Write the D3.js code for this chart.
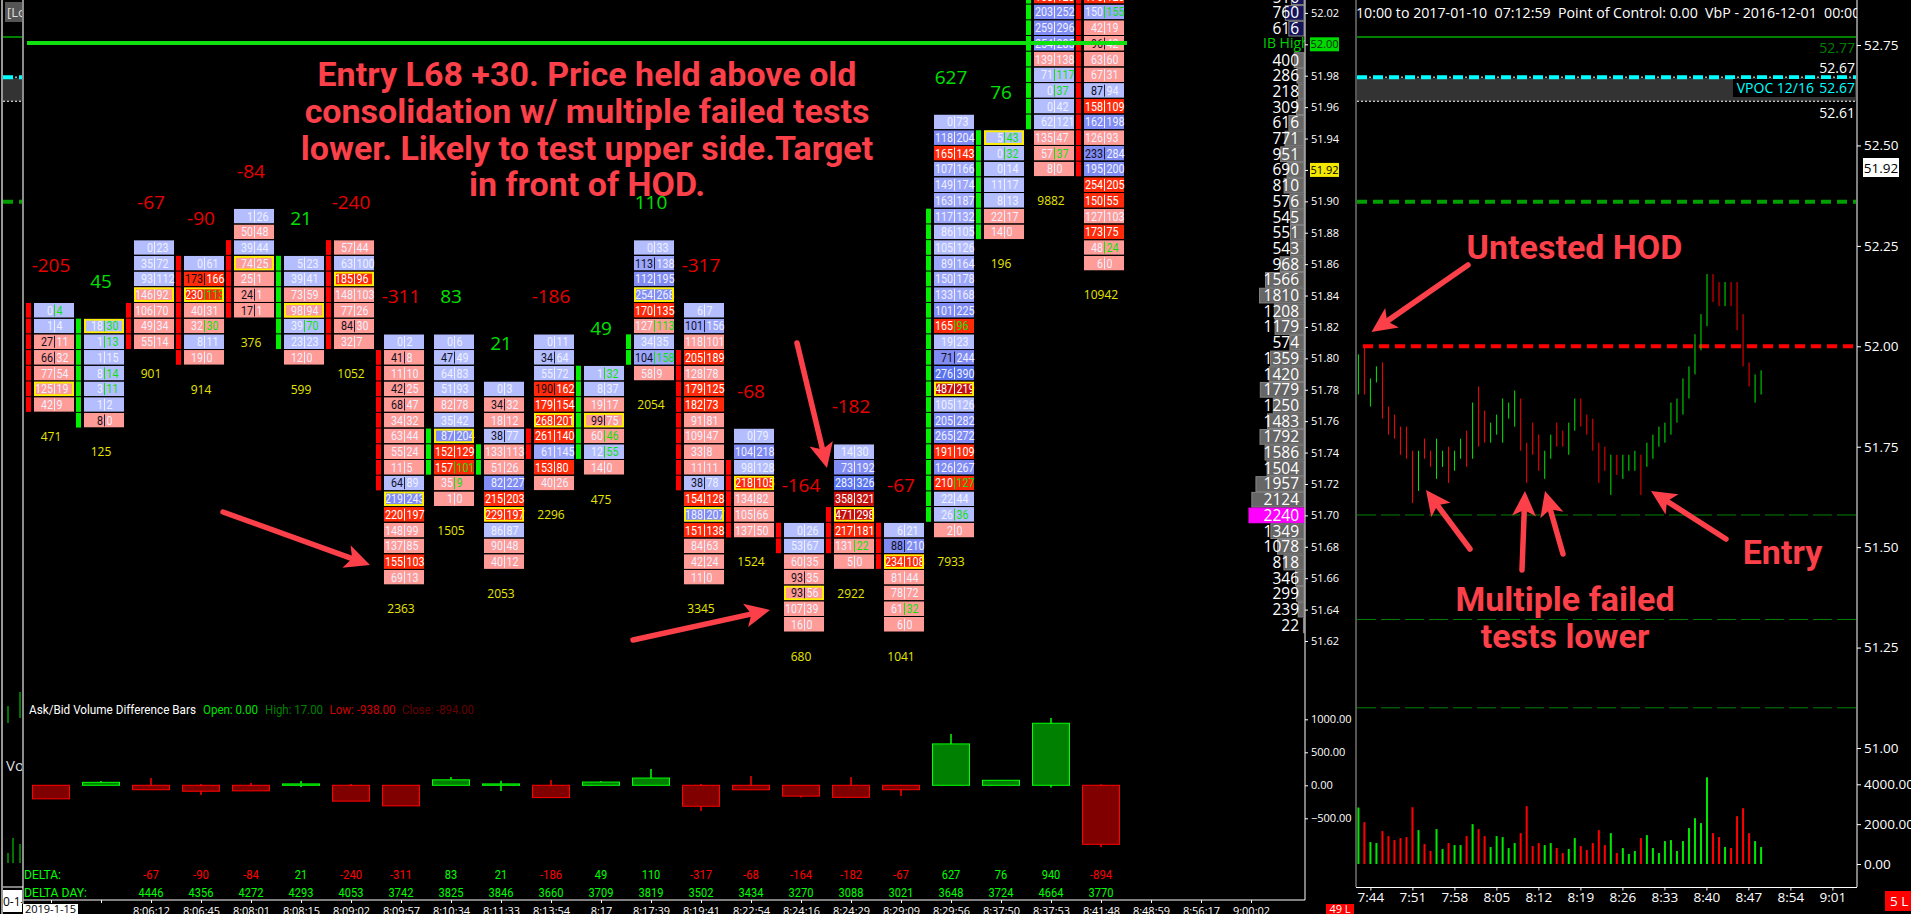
<!DOCTYPE html>
<html>
<head>
<meta charset="utf-8">
<script src="https://d3js.org/d3.v7.min.js"></script>
<style>
  html, body { margin: 0; padding: 0; background: #000; overflow: hidden; }
  text { font-family: "Open Sans", sans-serif; }
  .narrow { font-family: Roboto, sans-serif; }
  .note { font-family: Roboto, sans-serif; font-weight: 700; fill: #fb4049; }
</style>
</head>
<body>
<svg id="main-svg"></svg>
<script>
// --- 1. Data ---

// footprint columns, "bid|ask" per price row from the top price down
const footprints = [
  "0|4 1|4 27|11 66|32 77|54 125|19 42|9",
  "18|30 1|13 1|15 8|14 3|11 1|2 8|0",
  "0|23 35|72 93|112 146|92 106|70 49|34 55|14",
  "0|61 173|166 230|113 40|31 32|30 8|11 19|0",
  "1|26 50|48 39|44 74|25 25|1 24|1 17|1",
  "5|23 39|41 73|59 98|94 39|70 23|23 12|0",
  "57|44 63|100 185|96 148|103 77|26 84|30 32|7",
  "0|2 41|8 11|10 42|25 68|47 34|32 63|44 55|24 11|5 64|89 219|243 220|197 148|99 137|85 155|103 69|13",
  "0|6 47|49 64|83 51|93 82|78 35|42 87|204 152|129 157|101 35|9 1|0",
  "0|3 34|32 18|12 38|77 133|113 51|26 82|227 215|203 229|197 86|87 90|48 40|12",
  "0|11 34|64 55|72 190|162 179|154 268|201 261|140 61|145 153|80 40|26",
  "1|32 8|37 19|17 99|75 60|46 12|55 14|0",
  "0|33 113|138 112|195 254|268 170|135 127|113 34|35 104|158 58|9",
  "6|7 101|156 118|101 205|189 128|78 179|125 182|73 91|81 109|47 33|8 11|11 38|78 154|128 188|207 151|138 84|63 42|24 11|0",
  "0|79 104|218 98|128 218|105 134|82 105|66 137|50",
  "0|26 53|67 60|35 93|35 93|56 107|39 16|0",
  "14|30 73|192 283|326 358|321 471|298 217|181 131|22 5|0",
  "6|21 88|210 234|108 81|44 78|72 61|32 6|0",
  "0|73 118|204 165|143 107|166 149|174 163|187 117|132 86|105 105|126 89|164 150|178 133|168 101|225 165|96 19|23 71|244 276|390 487|219 105|126 205|282 265|272 191|109 126|267 210|127 22|44 26|36 2|0",
  "5|43 0|32 0|14 11|17 8|13 22|17 14|0",
  "168|120 203|252 259|296 254|285 139|138 71|117 0|37 0|42 62|121 135|47 57|37 8|0",
  "176|120 150|155 42|19 96|42 63|60 67|31 87|94 158|109 162|198 126|93 233|284 195|200 254|205 150|55 127|103 173|75 48|24 6|0"
];
const topPrices = [51.83, 51.82, 51.87, 51.86, 51.89, 51.86, 51.87, 51.81, 51.81, 51.78, 51.81, 51.79, 51.87, 51.83, 51.75, 51.69, 51.74, 51.69, 51.95, 51.94, 52.03, 52.03];
const deltas = [-205, 45, -67, -90, -84, 21, -240, -311, 83, 21, -186, 49, 110, -317, -68, -164, -182, -67, 627, 76, 940, -894];
const totals = [471, 125, 901, 914, 376, 599, 1052, 2363, 1505, 2053, 2296, 475, 2054, 3345, 1524, 680, 2922, 1041, 7933, 196, 9882, 10942];
const deltaDay = [null, null, 4446, 4356, 4272, 4293, 4053, 3742, 3825, 3846, 3660, 3709, 3819, 3502, 3434, 3270, 3088, 3021, 3648, 3724, 4664, 3770];
const deltaHigh = [0, 65, 111, 20, 35, 65, 20, 0, 126, 70, 80, 65, 247, 20, 141, 0, 126, 0, 778, 76, 1020, 17];
const deltaLow = [-205, 0, -67, -146, -84, -25, -240, -311, 0, -85, -186, 0, 0, -389, -68, -186, -182, -161, 0, 0, -35, -938];
// row of the point of control in each column, -1 when it is off the picture
const pocRows = [5, 0, 3, 2, 3, 3, 2, 10, 6, 8, 5, 3, 3, 13, 3, 4, 4, 2, 17, 0, -1, -1];
// rows with an imbalance marker on the ask, rows with a dark bid number
const askFlagRows = [[0], [0, 1, 3, 4], [], [2, 4], [], [4], [], [], [8, 9], [], [], [0, 4, 5], [5, 7], [], [], [], [6], [5], [13, 23, 25], [0, 1], [5, 6, 10], [1, 16]];
const bidFlagRows = [[2, 3], [6], [], [1], [5, 6], [], [5], [1, 3, 4, 9], [1], [1, 3], [1, 3], [3], [1, 7], [1, 11], [], [3, 4], [], [1], [15], [], [], [3, 6, 10]];
// rows covered by the thin delta strip beside each column
const stripFrom = [0, 0, 4, 0, 2, 0, 0, 1, 6, 4, 6, 0, 6, 3, 2, 0, 4, 0, 6, 0, 0, 0];
const stripTo = [6, 6, 6, 6, 6, 5, 6, 9, 8, 5, 7, 5, 7, 11, 6, 1, 6, 2, 25, 6, 8, 11];
const timeLabels = ["", "", "8:06:12", "8:06:45", "8:08:01", "8:08:15", "8:09:02", "8:09:57", "8:10:34", "8:11:33", "8:13:54", "8:17", "8:17:39", "8:19:41", "8:22:54", "8:24:16", "8:24:29", "8:29:09", "8:29:56", "8:37:50", "8:37:53", "8:41:48", "8:48:59", "8:56:17", "9:00:02"];

// volume profile, top row 52.03, one row per cent (null = hidden behind the IB High tag)
const profile = [516, 760, 616, null, 400, 286, 218, 309, 616, 771, 951, 690, 810, 576, 545, 551, 543, 968, 1566, 1810, 1208, 1179, 574, 1359, 1420, 1779, 1250, 1483, 1792, 1586, 1504, 1957, 2124, 2240, 1349, 1078, 818, 346, 299, 239, 22];
const priceTicks = [52.02, 52.00, 51.98, 51.96, 51.94, 51.92, 51.90, 51.88, 51.86, 51.84, 51.82, 51.80, 51.78, 51.76, 51.74, 51.72, 51.70, 51.68, 51.66, 51.64, 51.62];
const deltaTicks = [1000, 500, 0, -500];

// right hand one minute chart
const minuteHigh = [51.98, 52.00, 51.92, 51.95, 51.96, 51.85, 51.83, 51.80, 51.80, 51.74, 51.74, 51.77, 51.74, 51.77, 51.74, 51.75, 51.74, 51.77, 51.79, 51.86, 51.90, 51.84, 51.81, 51.83, 51.87, 51.86, 51.89, 51.87, 51.76, 51.81, 51.78, 51.74, 51.78, 51.81, 51.79, 51.81, 51.87, 51.87, 51.83, 51.82, 51.76, 51.75, 51.73, 51.73, 51.73, 51.73, 51.74, 51.73, 51.76, 51.78, 51.80, 51.81, 51.86, 51.87, 51.92, 51.95, 52.03, 52.08, 52.18, 52.18, 52.16, 52.16, 52.16, 52.16, 52.08, 51.96, 51.93, 51.94];
const minuteLow = [51.88, 51.88, 51.85, 51.91, 51.82, 51.78, 51.77, 51.73, 51.72, 51.61, 51.64, 51.72, 51.70, 51.67, 51.70, 51.66, 51.69, 51.72, 51.70, 51.72, 51.75, 51.76, 51.76, 51.78, 51.76, 51.82, 51.80, 51.74, 51.66, 51.73, 51.69, 51.67, 51.72, 51.75, 51.75, 51.73, 51.79, 51.80, 51.78, 51.74, 51.66, 51.69, 51.63, 51.68, 51.67, 51.69, 51.69, 51.63, 51.70, 51.72, 51.75, 51.76, 51.78, 51.81, 51.83, 51.87, 51.93, 51.99, 52.05, 52.11, 52.10, 52.10, 52.10, 52.04, 51.95, 51.90, 51.86, 51.88];
const minuteUp = [1, 0, 1, 1, 0, 0, 0, 0, 0, 0, 1, 0, 0, 1, 1, 0, 1, 1, 0, 1, 0, 0, 1, 1, 1, 1, 1, 0, 0, 0, 0, 1, 1, 0, 0, 1, 1, 0, 0, 0, 0, 0, 1, 0, 1, 1, 1, 0, 1, 1, 1, 1, 1, 1, 1, 1, 1, 1, 1, 0, 0, 1, 0, 0, 0, 0, 1, 1];
const minuteVolume = [2833, 2100, 1100, 1050, 1650, 1400, 1200, 1300, 1350, 2850, 1700, 1000, 650, 1750, 750, 1050, 950, 950, 1400, 2000, 1750, 1400, 850, 1400, 1350, 800, 1050, 1550, 2900, 900, 1050, 950, 1050, 800, 550, 750, 1300, 900, 700, 1050, 1700, 950, 1550, 550, 800, 500, 650, 1300, 1450, 800, 550, 1150, 1200, 650, 1150, 1800, 2300, 2050, 4350, 1550, 1350, 850, 800, 2400, 2800, 1550, 1150, 850];
const minuteLabels = ["7:44", "7:51", "7:58", "8:05", "8:12", "8:19", "8:26", "8:33", "8:40", "8:47", "8:54", "9:01"];
const minutePriceTicks = [52.75, 52.50, 52.25, 52.00, 51.75, 51.50, 51.25, 51.00];
const volumeTicks = [4000, 2000, 0];
const thinLevels = [51.58, 51.32, 51.10];

// --- 2. Setup ---
const width = 1911, height = 914;
const svg = d3.select("#main-svg").attr("width", width).attr("height", height).style("display", "block");

const RED = "#ff0000", GREEN = "#00f000", NOTE = "#fb4049";

const colX = d3.scaleLinear().domain([0, 24]).range([51, 1251]);
const priceY = d3.scaleLinear().domain([51.62, 52.02]).range([641, 12.9]);
const deltaY = d3.scaleLinear().domain([-500, 1000]).range([818.3, 719.3]);
const minuteY = d3.scaleLinear().domain([51, 52]).range([748, 346.3]);
const minuteX = d3.scaleLinear().domain([0, 67]).range([1358.4, 1761.1]);
const volumeY = d3.scaleLinear().domain([0, 4000]).range([864, 784.3]);
const profileW = d3.scaleLinear().domain([0, 2240]).range([0, 55]);

// cell tints follow the size of the bigger side
const blueTint = d3.scaleThreshold().domain([130, 190, 300]).range(["#b4beff", "#9ca6fb", "#808cf3", "#5a74ee"]);
const redTint = d3.scaleThreshold().domain([150, 350]).range(["#ff9c98", "#ff2a0a", "#c4100c"]);

const rows = footprints.map(s => s.split(" ").map(d => d.split("|").map(Number)));

// the chart's own font is narrower than anything installed, so squeeze to its width
const squeeze = (sel, w) => sel.attr("textLength", w).attr("lengthAdjust", "spacingAndGlyphs");
const numWidth = (v, per) => String(v).replace("-", "").length * per + (v < 0 ? 3.5 : 0);

svg.append("defs").append("clipPath").attr("id", "mainClip")
   .append("rect").attr("x", 24).attr("y", 0).attr("width", 1281).attr("height", 900);

drawLevels();
drawFootprint();
drawProfile();
drawPriceAxis();
drawDeltaPane();
drawMinuteChart();
drawNotes();
drawLeftStrip();

// --- 3. Drawing functions ---

function drawFootprint() {
    const g = svg.append("g").attr("clip-path", "url(#mainClip)");

    rows.forEach((colRows, i) => {
        const col = g.append("g").attr("class", "col");
        const cx = colX(i);
        const left = cx - 17;
        const top = topPrices[i];
        const rowY = r => priceY(top - r * 0.01) - 1;

        // delta strip
        col.selectAll("rect.strip")
           .data(d3.range(stripFrom[i], stripTo[i] + 1))
           .enter().append("rect")
           .attr("class", "strip")
           .attr("x", cx - 25)
           .attr("y", r => rowY(r) - 7.3)
           .attr("width", 5)
           .attr("height", 14.7)
           .attr("fill", deltas[i] < 0 ? RED : GREEN);

        colRows.forEach(([bid, ask], r) => {
            const isBlue = ask > bid || (ask === bid && bid > 20);
            const y = rowY(r);
            const cell = col.append("svg")
                .attr("x", left).attr("y", y - 7.3)
                .attr("width", 41).attr("height", 14.7);
            cell.append("rect").attr("width", 40).attr("height", 14.7)
                .attr("fill", isBlue ? blueTint(ask) : redTint(bid));

            const dark = bidFlagRows[i].includes(r);
            const flagged = askFlagRows[i].includes(r);
            const bright = !isBlue && bid >= 150 ? "#ffffff" : "#eef0ff";

            cell.append("text").attr("class", "narrow")
                .attr("x", 19).attr("y", 11.8).attr("text-anchor", "end")
                .attr("font-size", 13)
                .attr("fill", dark ? "#10101c" : bright)
                .text(bid)
                .call(squeeze, numWidth(bid, 6));
            cell.append("rect").attr("x", 20).attr("y", 1.5).attr("width", 1).attr("height", 12)
                .attr("fill", flagged ? "#10e010" : dark ? "#20203a" : bright);
            cell.append("text").attr("class", "narrow")
                .attr("x", 22.5).attr("y", 11.8)
                .attr("font-size", 13)
                .attr("fill", flagged ? "#10e010" : bright)
                .text(ask)
                .call(squeeze, numWidth(ask, 6));

            if (r === pocRows[i]) {
                cell.append("rect").attr("x", 1).attr("y", 1).attr("width", 38).attr("height", 12.7)
                    .attr("fill", "none").attr("stroke", "#ffee00").attr("stroke-width", 2);
            }
        });

        col.append("text")
           .attr("x", cx).attr("y", rowY(0) - 7.3 - 31)
           .attr("text-anchor", "middle")
           .attr("font-size", 19)
           .attr("fill", deltas[i] < 0 ? "#e80000" : "#00e000")
           .text(deltas[i]);

        col.append("text")
           .attr("x", cx).attr("y", rowY(colRows.length - 1) + 7.3 + 29)
           .attr("text-anchor", "middle")
           .attr("font-size", 12)
           .attr("fill", "#e6e600")
           .text(totals[i]);
    });

    // IB High line sits on top of the cells
    g.append("rect").attr("x", 27).attr("y", 41).attr("width", 1100).attr("height", 4).attr("fill", "#10e010");
}

function drawProfile() {
    const g = svg.append("g").attr("clip-path", "url(#mainClip)");
    const data = profile.map((v, i) => ({v: v, price: 52.03 - i * 0.01})).filter(d => d.v !== null);
    const poc = d3.max(profile);

    g.selectAll("rect.vbar")
     .data(data)
     .enter().append("rect")
     .attr("class", "vbar")
     .attr("x", d => 1304 - profileW(d.v))
     .attr("y", d => priceY(d.price) - 7.3)
     .attr("width", d => profileW(d.v))
     .attr("height", 14.7)
     .attr("fill", d => d.v === poc ? "#ff00ff" : (d.price > 52.005 || d.price < 51.635) ? "#14145a" : "#666666")
     .attr("stroke", d => d.v === poc ? "#ff00ff" : "#858585");

    g.selectAll("text.vnum")
     .data(data)
     .enter().append("text")
     .attr("class", "vnum")
     .attr("x", 1299)
     .attr("y", d => priceY(d.price) + 5.5)
     .attr("text-anchor", "end")
     .attr("font-size", 15.5)
     .attr("fill", "#ffffff")
     .text(d => d.v);

    g.append("text")
     .attr("x", 1263).attr("y", 48)
     .attr("font-size", 14)
     .attr("fill", "#00d000")
     .text("IB High");
}

function drawPriceAxis() {
    const g = svg.append("g");
    g.append("line").attr("x1", 1305).attr("x2", 1305).attr("y1", 0).attr("y2", 900).attr("stroke", "#fff");
    g.append("line").attr("x1", 23).attr("x2", 1305).attr("y1", 900).attr("y2", 900).attr("stroke", "#fff");

    const ax = d3.axisRight(priceY).tickValues(priceTicks).tickFormat(d3.format(".2f")).tickSize(3).tickPadding(3);
    const a = g.append("g").attr("transform", "translate(1305,0)").call(ax);
    styleAxis(a, 11);

    const ax2 = d3.axisRight(deltaY).tickValues(deltaTicks).tickFormat(d3.format(".2f")).tickSize(3).tickPadding(3);
    const a2 = g.append("g").attr("transform", "translate(1305,0)").call(ax2);
    styleAxis(a2, 11);

    // current price and IB High tags on the axis
    tag(g, 1310, priceY(51.92), 29, 14, "#f4e800", "#000", "51.92");
    tag(g, 1310, priceY(52.00), 29, 14, "#00d800", "#003000", "52.00");

    const b = d3.axisBottom(colX).tickValues(d3.range(0, 25))
                .tickFormat(i => timeLabels[i]).tickSize(3).tickPadding(4);
    const ba = g.append("g").attr("transform", "translate(0,900)").call(b);
    styleAxis(ba, 11);

    tag(g, 23, 909, 55, 10, "#ffffff", "#000", "2019-1-15");
    tag(g, 1326, 909, 28, 10, "#ff0000", "#fff", "49 L");
}

function tag(g, x, cy, w, h, bg, fg, label) {
    g.append("rect").attr("x", x).attr("y", cy - h / 2).attr("width", w).attr("height", h).attr("fill", bg);
    g.append("text").attr("x", x + w / 2).attr("y", cy + 4).attr("text-anchor", "middle")
     .attr("font-size", 11).attr("fill", fg).text(label);
}

function styleAxis(a, size) {
    a.select(".domain").remove();
    a.selectAll("line").attr("stroke", "#fff");
    a.selectAll("text").attr("fill", "#fff").attr("font-size", size)
     .style("font-family", '"Open Sans", sans-serif');
}

function drawDeltaPane() {
    const g = svg.append("g");
    const legend = [
        ["Ask/Bid Volume Difference Bars", 29, 167, "#ffffff"],
        ["Open: 0.00", 203, 55, "#00e000"],
        ["High: 17.00", 265, 58, "#008000"],
        ["Low: -938.00", 329.5, 66, "#d00000"],
        ["Close: -894.00", 402, 72, "#660000"]
    ];
    g.selectAll("text.legend")
     .data(legend)
     .enter().append("text")
     .attr("class", "legend narrow")
     .attr("x", d => d[1]).attr("y", 713.5)
     .attr("font-size", 13)
     .attr("fill", d => d[3])
     .attr("textLength", d => d[2])
     .attr("lengthAdjust", "spacingAndGlyphs")
     .text(d => d[0]);

    const idx = d3.range(deltas.length);

    g.selectAll("line.wick")
     .data(idx)
     .enter().append("line")
     .attr("class", "wick")
     .attr("x1", i => colX(i)).attr("x2", i => colX(i))
     .attr("y1", i => deltaY(deltaHigh[i])).attr("y2", i => deltaY(deltaLow[i]))
     .attr("stroke", i => deltas[i] < 0 ? RED : "#00ff00")
     .attr("stroke-width", 1.5);

    g.selectAll("rect.body")
     .data(idx)
     .enter().append("rect")
     .attr("class", "body")
     .attr("x", i => colX(i) - 18.5)
     .attr("y", i => Math.min(deltaY(0), deltaY(deltas[i])))
     .attr("width", 37)
     .attr("height", i => Math.abs(deltaY(deltas[i]) - deltaY(0)))
     .attr("fill", i => deltas[i] < 0 ? "#800000" : "#008000")
     .attr("stroke", i => deltas[i] < 0 ? RED : "#00ff00");

    g.append("text").attr("class", "narrow").attr("x", 24).attr("y", 879)
     .attr("font-size", 13).attr("fill", "#00ff00").text("DELTA:").call(squeeze, 37);
    g.append("text").attr("class", "narrow").attr("x", 24).attr("y", 897)
     .attr("font-size", 13).attr("fill", "#00ff00").text("DELTA DAY:").call(squeeze, 63);

    const shown = idx.filter(i => i >= 2);
    g.selectAll("text.dv")
     .data(shown)
     .enter().append("text")
     .attr("class", "dv narrow")
     .attr("x", i => colX(i)).attr("y", 879)
     .attr("text-anchor", "middle")
     .attr("font-size", 13)
     .attr("fill", i => deltas[i] < 0 ? RED : "#00ff00")
     .attr("textLength", i => numWidth(deltas[i], 6.2))
     .attr("lengthAdjust", "spacingAndGlyphs")
     .text(i => deltas[i]);
    g.selectAll("text.dd")
     .data(shown)
     .enter().append("text")
     .attr("class", "dd narrow")
     .attr("x", i => colX(i)).attr("y", 897)
     .attr("text-anchor", "middle")
     .attr("font-size", 13)
     .attr("fill", "#00ff00")
     .attr("textLength", i => numWidth(deltaDay[i], 6.2))
     .attr("lengthAdjust", "spacingAndGlyphs")
     .text(i => deltaDay[i]);
}

// the level lines run through the right chart and the narrow left strip
function drawLevels() {
    const spans = [[1357, 1856], [3, 22]];
    spans.forEach(([x0, x1], s) => {
        const g = svg.append("g");
        const hline = (price, color, w, dash, start) => {
            const y = minuteY(price);
            g.append("line").attr("x1", start || x0).attr("x2", x1).attr("y1", y).attr("y2", y)
             .attr("stroke", color).attr("stroke-width", w).attr("stroke-dasharray", dash || null);
        };
        g.append("rect").attr("x", x0).attr("y", minuteY(52.67) + 1)
         .attr("width", x1 - x0).attr("height", minuteY(52.61) - minuteY(52.67) - 1).attr("fill", "#333333");
        hline(52.77, "#008000", 2);
        hline(52.67, "#ffffff", 1, "2 2");
        hline(52.67, "#00ffff", 4, "10 6");
        hline(52.61, "#ffffff", 1, "2 2");
        hline(52.36, "#00a000", 4, "10 6");
        if (s === 0) {
            hline(52.00, "#ff0000", 4, "10 6", 1363);
            thinLevels.forEach(p => hline(p, "#008000", 1, "19 5"));
        }
    });
}

function drawMinuteChart() {
    const g = svg.append("g");
    const idx = d3.range(minuteHigh.length);

    // tags on the right hand levels
    g.append("rect").attr("x", 1733).attr("y", 79).attr("width", 122).attr("height", 18).attr("fill", "#000");
    const tagText = (x, y, color, t) => g.append("text").attr("x", x).attr("y", y).attr("text-anchor", "end")
        .attr("font-size", 14).attr("fill", color).text(t);
    tagText(1855, 52.5, "#008000", "52.77");
    tagText(1855, 72.5, "#ffffff", "52.67");
    tagText(1855, 92.5, "#00ffff", "52.67");
    tagText(1814, 92.5, "#00ffff", "VPOC 12/16");
    tagText(1855, 117.5, "#ffffff", "52.61");

    g.selectAll("line.mbar")
     .data(idx)
     .enter().append("line")
     .attr("class", "mbar")
     .attr("x1", i => minuteX(i)).attr("x2", i => minuteX(i))
     .attr("y1", i => minuteY(minuteHigh[i])).attr("y2", i => minuteY(minuteLow[i]))
     .attr("stroke", i => minuteUp[i] ? "#00e800" : RED)
     .attr("stroke-width", 1);

    g.selectAll("rect.mvol")
     .data(idx)
     .enter().append("rect")
     .attr("class", "mvol")
     .attr("x", i => minuteX(i) - 1)
     .attr("y", i => volumeY(minuteVolume[i]))
     .attr("width", 2)
     .attr("height", i => volumeY(0) - volumeY(minuteVolume[i]))
     .attr("fill", i => minuteUp[i] ? "#00e800" : RED);

    // frame
    g.append("line").attr("x1", 1356).attr("x2", 1356).attr("y1", 0).attr("y2", 887).attr("stroke", "#aaa");
    g.append("line").attr("x1", 1857).attr("x2", 1857).attr("y1", 0).attr("y2", 887).attr("stroke", "#fff");
    g.append("line").attr("x1", 1356).attr("x2", 1857).attr("y1", 887.5).attr("y2", 887.5).attr("stroke", "#fff");

    const header = svg.append("svg").attr("x", 1356).attr("y", 0).attr("width", 501).attr("height", 26);
    header.append("text").attr("x", 0).attr("y", 18).attr("font-size", 14.2).attr("fill", "#fff")
          .attr("xml:space", "preserve").style("white-space", "pre")
          .text("10:00 to 2017-01-10  07:12:59  Point of Control: 0.00  VbP - 2016-12-01  00:00");

    const py = g.append("g").attr("transform", "translate(1857,0)")
        .call(d3.axisRight(minuteY).tickValues(minutePriceTicks).tickFormat(d3.format(".2f")).tickSize(4).tickPadding(3));
    styleAxis(py, 13.5);
    const vy = g.append("g").attr("transform", "translate(1857,0)")
        .call(d3.axisRight(volumeY).tickValues(volumeTicks).tickFormat(d3.format(".2f")).tickSize(4).tickPadding(3));
    styleAxis(vy, 13.5);

    const tx = g.append("g").attr("transform", "translate(0,887.5)")
        .call(d3.axisBottom(d3.scaleLinear().domain([0, 11]).range([1370.4, 1832.4]))
                .tickValues(d3.range(12)).tickFormat(i => minuteLabels[i]).tickSize(3).tickPadding(2));
    styleAxis(tx, 13.5);

    g.append("rect").attr("x", 1863).attr("y", 158).attr("width", 36).attr("height", 19).attr("fill", "#fff");
    g.append("text").attr("x", 1881).attr("y", 172.5).attr("text-anchor", "middle")
     .attr("font-size", 13.5).attr("fill", "#000").text("51.92");

    g.append("rect").attr("x", 1885).attr("y", 891).attr("width", 26).attr("height", 20).attr("fill", RED);
    g.append("text").attr("x", 1890).attr("y", 906).attr("font-size", 13.5).attr("fill", "#fff").text("5 L");
}

function arrow(g, x0, y0, x1, y1) {
    const a = Math.atan2(y1 - y0, x1 - x0);
    const ux = Math.cos(a), uy = Math.sin(a);
    const len = 25, half = 12;
    const bx = x1 - ux * len, by = y1 - uy * len;
    g.append("line").attr("x1", x0).attr("y1", y0)
     .attr("x2", x1 - ux * 16).attr("y2", y1 - uy * 16)
     .attr("stroke", NOTE).attr("stroke-width", 5.5).attr("stroke-linecap", "round");
    g.append("path")
     .attr("d", `M${x1},${y1}L${bx - uy * half},${by + ux * half}L${x1 - ux * 19},${y1 - uy * 19}L${bx + uy * half},${by - ux * half}Z`)
     .attr("fill", NOTE);
}

function drawNotes() {
    const g = svg.append("g");
    const mainNote = [
        "Entry L68 +30. Price held above old",
        "consolidation w/ multiple failed tests",
        "lower. Likely to test upper side.Target",
        "in front of HOD."
    ];
    g.selectAll("text.mainnote")
     .data(mainNote)
     .enter().append("text")
     .attr("class", "note mainnote")
     .attr("x", 587)
     .attr("y", (d, i) => 86 + i * 36.8)
     .attr("text-anchor", "middle")
     .attr("font-size", 34)
     .text(d => d);

    const sideNotes = [
        ["Untested HOD", 1574.5, 258.5],
        ["Entry", 1782.5, 564],
        ["Multiple failed", 1565, 611],
        ["tests lower", 1565, 648]
    ];
    g.selectAll("text.sidenote")
     .data(sideNotes)
     .enter().append("text")
     .attr("class", "note sidenote")
     .attr("x", d => d[1]).attr("y", d => d[2])
     .attr("text-anchor", "middle")
     .attr("font-size", 34)
     .text(d => d[0]);

    arrow(g, 223, 512, 370, 565);
    arrow(g, 633, 640, 770, 610);
    arrow(g, 797, 343, 827, 468);
    arrow(g, 1468, 265, 1371.5, 332);
    arrow(g, 1470, 549, 1426, 490);
    arrow(g, 1522, 570, 1525, 491);
    arrow(g, 1563, 554, 1545, 491);
    arrow(g, 1726, 539, 1651, 491);
}

function drawLeftStrip() {
    const g = svg.append("g");
    g.append("line").attr("x1", 2).attr("x2", 2).attr("y1", 0).attr("y2", 914).attr("stroke", "#ccc").attr("stroke-width", 1.5);
    g.append("line").attr("x1", 23).attr("x2", 23).attr("y1", 0).attr("y2", 904).attr("stroke", "#bbb").attr("stroke-width", 1.5);

    g.append("rect").attr("x", 5).attr("y", 2).attr("width", 17).attr("height", 20).attr("fill", "#555");
    const title = g.append("svg").attr("x", 5).attr("y", 2).attr("width", 17).attr("height", 20);
    title.append("text").attr("x", 2).attr("y", 15).attr("font-size", 13).attr("fill", "#ddd").text("[Lo");

    const vo = g.append("svg").attr("x", 4).attr("y", 755).attr("width", 18).attr("height", 22);
    vo.append("text").attr("x", 2).attr("y", 16).attr("font-size", 15).attr("fill", "#ddd").text("Vo");

    [[8, 706, 723], [20, 692, 718], [8, 853, 863], [13, 838, 863], [20, 844, 863]].forEach(d => {
        g.append("line").attr("x1", d[0]).attr("x2", d[0]).attr("y1", d[1]).attr("y2", d[2])
         .attr("stroke", "#00e800").attr("stroke-width", 1);
    });

    g.append("line").attr("x1", 3).attr("x2", 23).attr("y1", 887).attr("y2", 887).attr("stroke", "#fff");
    g.append("rect").attr("x", 3).attr("y", 890).attr("width", 19).attr("height", 22).attr("fill", "#fff");
    const box = g.append("svg").attr("x", 3).attr("y", 890).attr("width", 19).attr("height", 22);
    box.append("text").attr("x", 0).attr("y", 16).attr("font-size", 12).attr("fill", "#000").text("0-1-");
}
</script>
</body>
</html>
